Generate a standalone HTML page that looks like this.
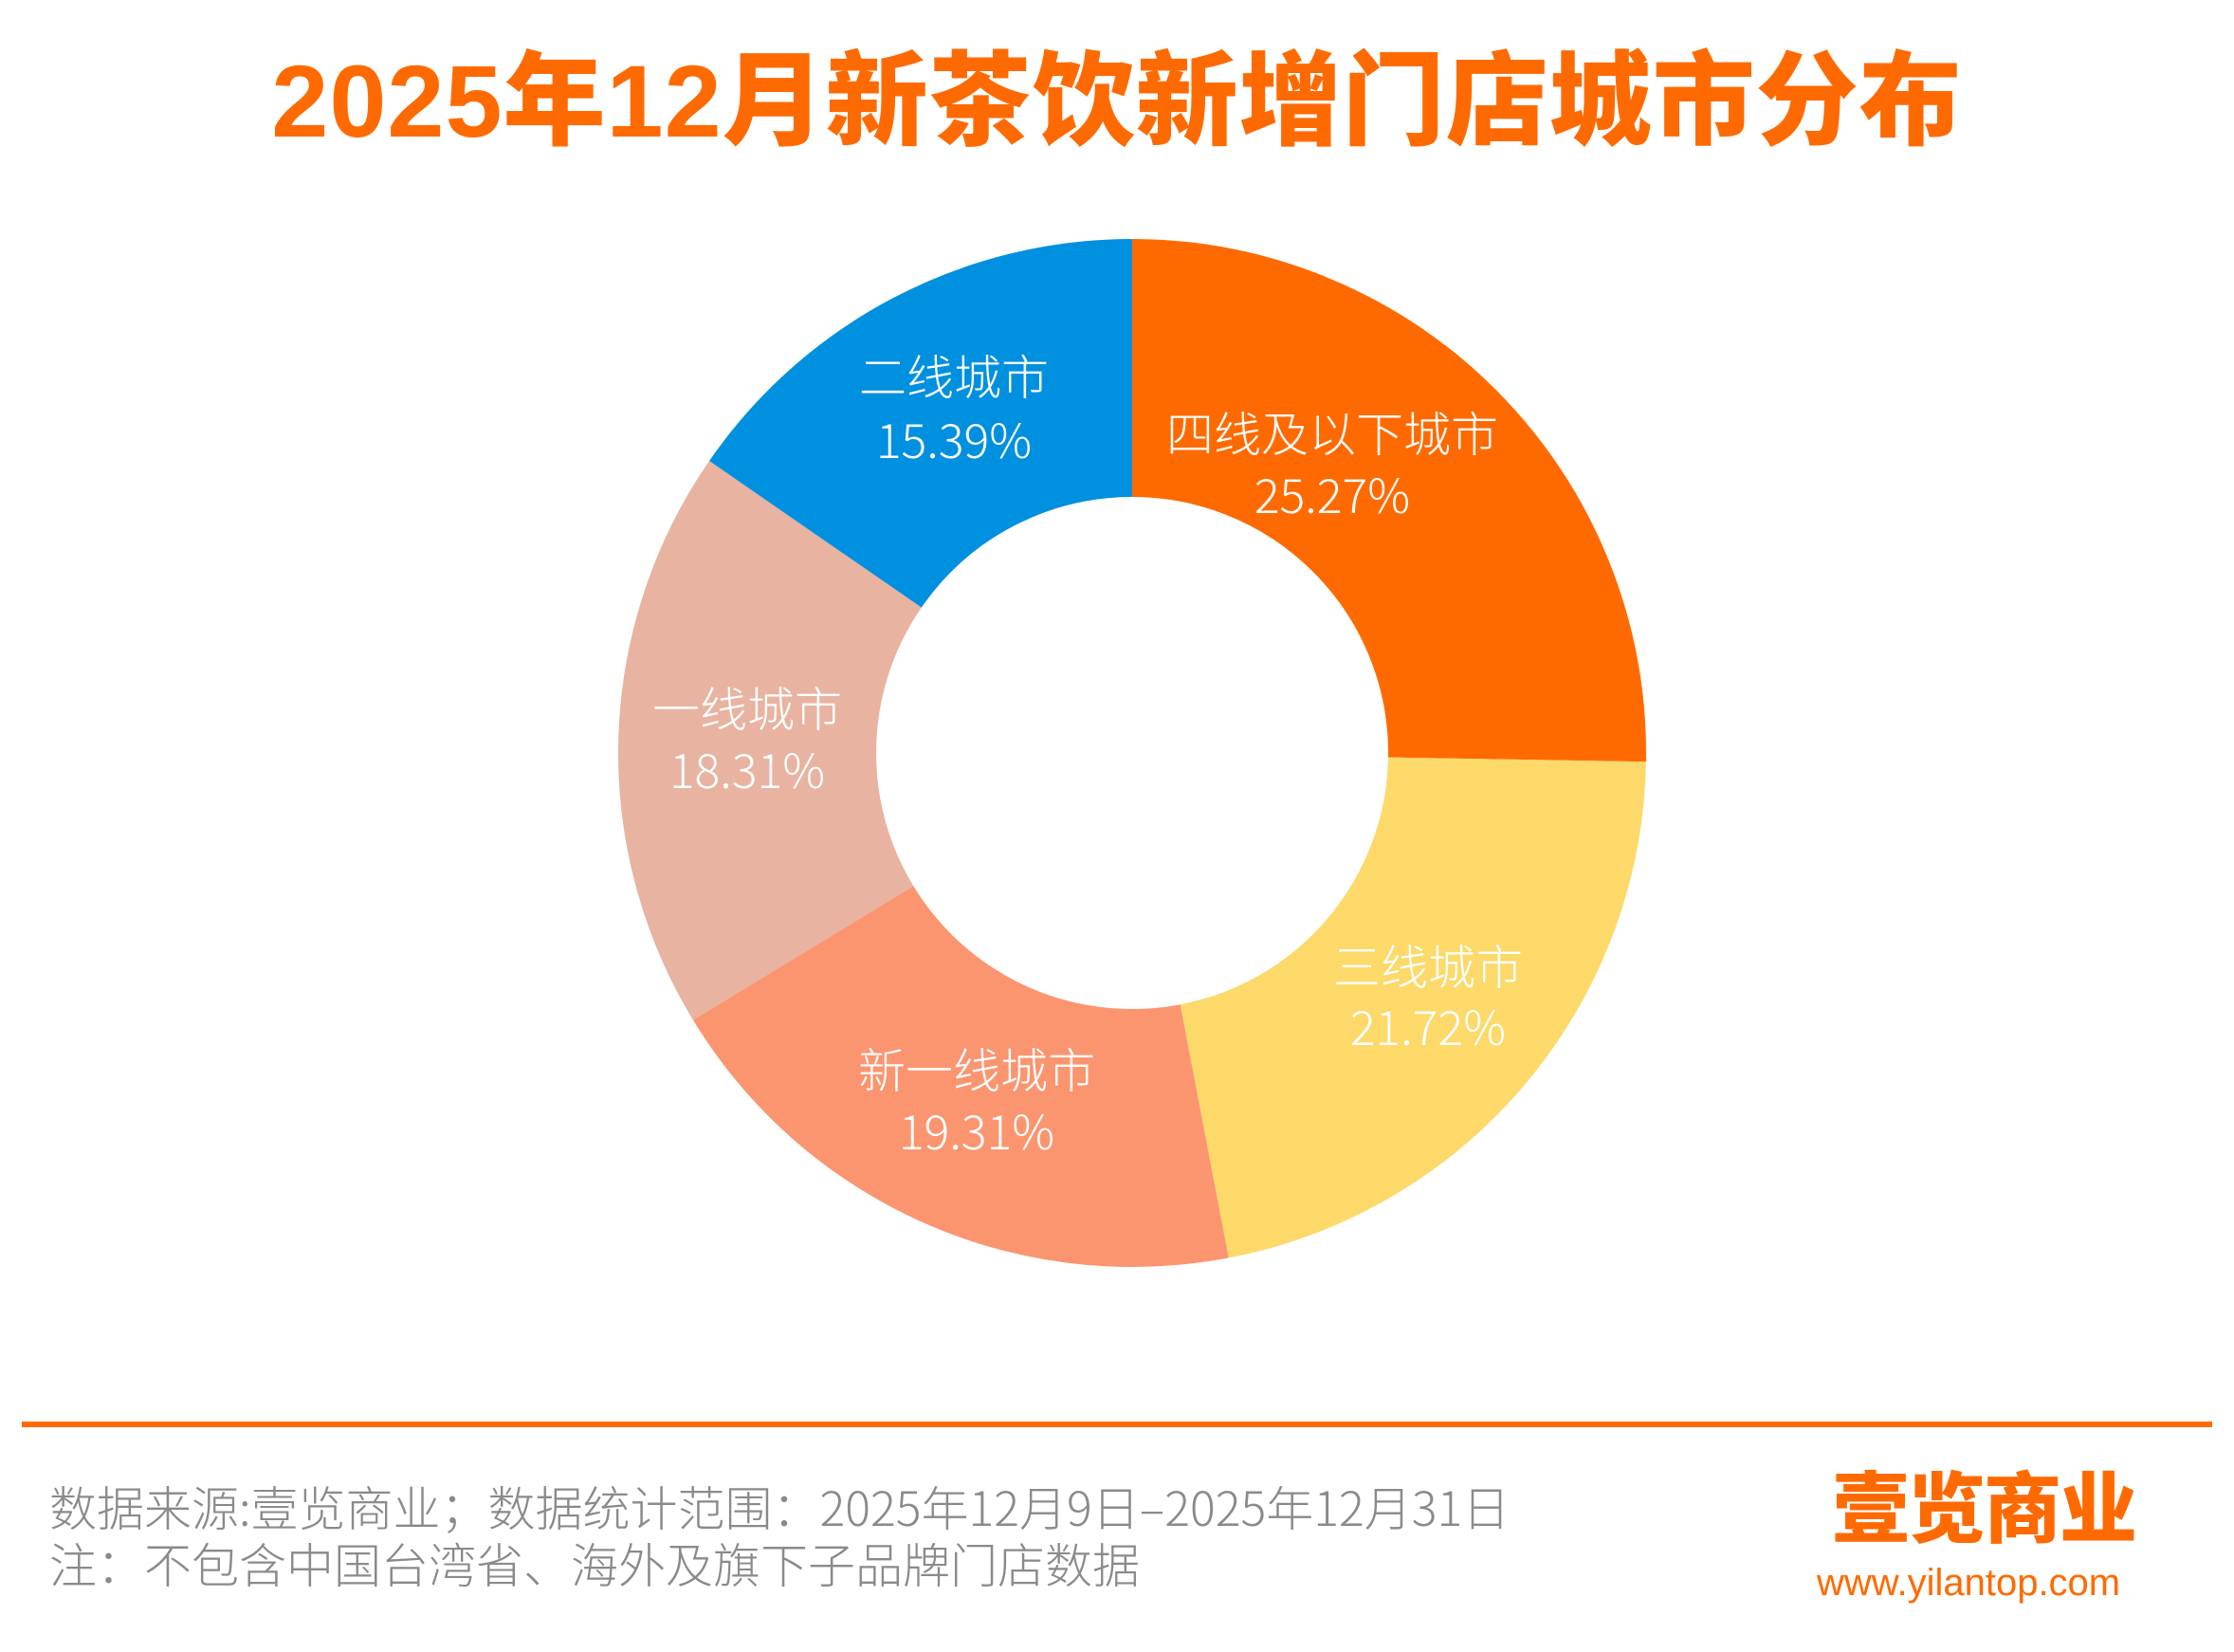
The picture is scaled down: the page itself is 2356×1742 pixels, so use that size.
<!DOCTYPE html>
<html><head><meta charset="utf-8">
<style>
html,body{margin:0;padding:0;background:#fff;}
body{width:2356px;height:1742px;position:relative;overflow:hidden;font-family:"Liberation Sans","Noto Sans CJK SC",sans-serif;}
.t{position:absolute;white-space:nowrap;}
</style></head><body>
<div class="t" style="left:0;width:2356px;text-align:center;top:20px;font-size:108px;font-weight:900;color:#ff6a00;letter-spacing:1px;">2025年12月新茶饮新增门店城市分布</div>
<svg width="2356" height="1742" style="position:absolute;left:0;top:0">
<g transform="rotate(-90 1194 794)" fill="none" stroke-width="272">
<circle cx="1194" cy="794" r="406" stroke="#ff6a00" stroke-dasharray="644.6 3000" stroke-dashoffset="0"/>
<circle cx="1194" cy="794" r="406" stroke="#fdd96a" stroke-dasharray="554.1 3000" stroke-dashoffset="-644.6"/>
<circle cx="1194" cy="794" r="406" stroke="#fb9570" stroke-dasharray="492.6 3000" stroke-dashoffset="-1198.7"/>
<circle cx="1194" cy="794" r="406" stroke="#e8b3a0" stroke-dasharray="467.1 3000" stroke-dashoffset="-1691.3"/>
<circle cx="1194" cy="794" r="406" stroke="#0090e0" stroke-dasharray="392.6 3000" stroke-dashoffset="-2158.4"/>
</g>
<g fill="#fff" font-size="50" font-weight="300" text-anchor="middle" font-family="Noto Sans CJK SC, sans-serif">
<text x="1405" y="476">四线及以下城市</text><text x="1405" y="541">25.27%</text>
<text x="1506" y="1038">三线城市</text><text x="1506" y="1102">21.72%</text>
<text x="1030" y="1147">新一线城市</text><text x="1030" y="1212">19.31%</text>
<text x="788" y="766">一线城市</text><text x="788" y="831">18.31%</text>
<text x="1006" y="416">二线城市</text><text x="1006" y="483">15.39%</text>
</g>
<rect x="23" y="1499" width="2310" height="6" fill="#ff6a00"/>
</svg>
<div class="t" style="left:52px;top:1552px;font-size:50px;font-weight:300;color:#8a8a8a;font-family:'Noto Sans CJK SC',sans-serif;">数据来源:壹览商业；数据统计范围：2025年12月9日–2025年12月31日</div>
<div class="t" style="left:52px;top:1612px;font-size:50px;font-weight:300;color:#8a8a8a;font-family:'Noto Sans CJK SC',sans-serif;">注：不包含中国台湾省、海外及旗下子品牌门店数据</div>
<div class="t" style="left:1932px;top:1525px;font-size:82px;font-weight:900;color:#ff6a00;letter-spacing:-2px;">壹览商业</div>
<div class="t" style="left:1916px;top:1647px;font-size:40px;color:#ff6a00;">www.yilantop.com</div>
</body></html>
